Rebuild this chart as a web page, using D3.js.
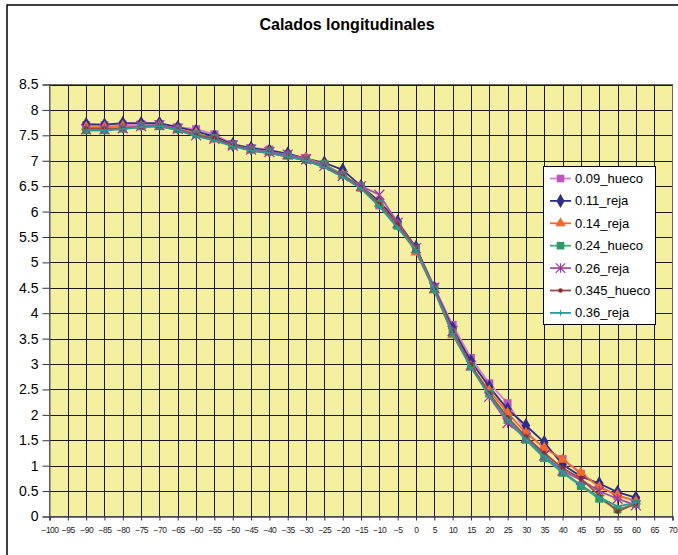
<!DOCTYPE html>
<html><head><meta charset="utf-8">
<script src="https://cdn.jsdelivr.net/npm/d3@7"></script>
<style>body{margin:0;background:#fff;} svg{display:block;font-family:Arial,"Liberation Sans",sans-serif;}</style>
</head><body>
<script>
const title = "Calados longitudinales";
const xValues = [-90,-85,-80,-75,-70,-65,-60,-55,-50,-45,-40,-35,-30,-25,-20,-15,-10,-5,0,5,10,15,20,25,30,35,40,45,50,55,60];
const xTicks = d3.range(-100, 71, 5);
const yTicks = d3.range(0, 8.51, 0.5);
const seriesNames = ["0.09_hueco","0.11_reja","0.14_reja","0.24_hueco","0.26_reja","0.345_hueco","0.36_reja"];
const s009 = [7.70,7.70,7.71,7.72,7.72,7.66,7.62,7.52,7.33,7.25,7.22,7.13,7.05,6.93,6.72,6.47,6.12,5.75,5.28,4.52,3.77,3.12,2.62,2.23,1.67,1.35,1.13,0.84,0.60,0.40,0.32];
const s011 = [7.72,7.71,7.74,7.74,7.74,7.66,7.58,7.48,7.32,7.25,7.20,7.14,7.04,6.96,6.82,6.50,6.20,5.80,5.30,4.50,3.70,3.05,2.55,2.11,1.79,1.46,1.02,0.79,0.65,0.48,0.37];
const s014 = [7.66,7.66,7.68,7.68,7.70,7.62,7.55,7.42,7.30,7.22,7.17,7.10,7.05,6.92,6.73,6.47,6.15,5.73,5.20,4.45,3.57,2.95,2.48,2.04,1.64,1.35,1.12,0.86,0.58,0.42,0.30];
const s024 = [7.60,7.60,7.63,7.68,7.68,7.62,7.52,7.45,7.30,7.22,7.18,7.10,7.02,6.93,6.72,6.50,6.15,5.72,5.25,4.48,3.62,2.95,2.42,1.90,1.51,1.15,0.86,0.60,0.35,0.14,0.25];
const s026 = [7.62,7.62,7.64,7.68,7.70,7.63,7.50,7.43,7.30,7.22,7.17,7.12,7.03,6.90,6.70,6.50,6.33,5.78,5.28,4.50,3.65,2.97,2.36,1.84,1.55,1.20,0.90,0.72,0.50,0.35,0.22];
const s0345 = [7.63,7.63,7.63,7.66,7.68,7.60,7.50,7.44,7.30,7.20,7.15,7.08,7.00,6.88,6.70,6.47,6.15,5.75,5.27,4.47,3.63,2.98,2.42,1.95,1.57,1.25,0.95,0.75,0.41,0.10,0.25];
const s036 = [7.60,7.60,7.62,7.66,7.68,7.60,7.48,7.40,7.28,7.20,7.15,7.08,7.00,6.87,6.68,6.45,6.10,5.68,5.25,4.45,3.60,2.93,2.38,1.90,1.52,1.18,0.88,0.62,0.38,0.20,0.27];
const seriesValues = [s009,s011,s014,s024,s026,s0345,s036];
const colors = ["#C055C0","#2E2E88","#F26A2A","#2E9A6A","#9A3A9A","#8E2A2A","#2A9A9A"];
const lineColors = ["#D27FD2","#2E2E88","#F26A2A","#4AA87A","#A850A8","#A04A4A","#2A9A9A"];
const shapes = ["square","diamond","triangle","square","star","circle","plus"];

const W = 678, H = 555;
const svg = d3.select("body").append("svg").attr("width", W).attr("height", H);
svg.append("rect").attr("x", 7).attr("y", 5).attr("width", W + 10).attr("height", H + 10)
  .attr("fill", "#fff").attr("stroke", "#000").attr("stroke-width", 1.5);

const x = d3.scaleLinear().domain([-100, 70]).range([49.5, 672.5]);
const y = d3.scaleLinear().domain([0, 8.5]).range([516.5, 84.5]);

svg.append("text").attr("x", 347).attr("y", 30).attr("text-anchor", "middle")
  .attr("font-size", 16).attr("font-weight", "bold").text(title);

svg.append("rect").attr("x", x(-100)).attr("y", y(8.5)).attr("width", x(70) - x(-100)).attr("height", y(0) - y(8.5))
  .attr("fill", "#F4F0A0");

const grid = svg.append("g").attr("stroke", "#1a1a1a").attr("stroke-width", 1);
xTicks.filter(d => d > -100 && d < 70).forEach(d => grid.append("line")
  .attr("x1", Math.round(x(d)) + 0.5).attr("x2", Math.round(x(d)) + 0.5).attr("y1", y(8.5)).attr("y2", y(0)));
yTicks.filter(d => d > 0).forEach(d => grid.append("line")
  .attr("x1", x(-100)).attr("x2", x(70)).attr("y1", Math.round(y(d)) + 0.5).attr("y2", Math.round(y(d)) + 0.5));
svg.append("rect").attr("x", x(-100)).attr("y", y(8.5)).attr("width", x(70) - x(-100)).attr("height", y(0) - y(8.5))
  .attr("fill", "none").attr("stroke", "#666").attr("stroke-width", 1);

const yAxis = d3.axisLeft(y).tickValues(yTicks).tickSize(7).tickPadding(4).tickFormat(d3.format("~g"));
const gy = svg.append("g").attr("transform", `translate(${x(-100)},0)`).call(yAxis);
gy.select(".domain").attr("stroke", "#555");
gy.selectAll(".tick line").attr("stroke", "#333");
gy.selectAll("text").attr("font-size", 14).attr("fill", "#000").attr("font-family", "Arial, 'Liberation Sans', sans-serif");

const xAxis = d3.axisBottom(x).tickValues(xTicks).tickSize(4).tickPadding(6).tickFormat(d3.format("d"));
const gx = svg.append("g").attr("transform", `translate(0,${y(0)})`).call(xAxis);
gx.select(".domain").attr("stroke", "#444").attr("stroke-width", 1.5);
gx.selectAll(".tick line").attr("stroke", "#333");
gx.selectAll("text").attr("font-size", 8.5).attr("fill", "#222").attr("letter-spacing", -0.5)
  .attr("font-family", "Arial, 'Liberation Sans', sans-serif");

function drawMarker(g, shape, color, cx, cy, scale) {
  const k = scale || 1;
  if (shape === "square") {
    const s = 8 * k;
    g.append("rect").attr("x", cx - s/2).attr("y", cy - s/2).attr("width", s).attr("height", s).attr("fill", color);
  } else if (shape === "diamond") {
    g.append("path").attr("d", d3.symbol(d3.symbolDiamond, 64 * k * k)()).attr("transform", `translate(${cx},${cy})`).attr("fill", color);
  } else if (shape === "triangle") {
    g.append("path").attr("d", d3.symbol(d3.symbolTriangle, 52 * k * k)()).attr("transform", `translate(${cx},${cy})`).attr("fill", color);
  } else if (shape === "star") {
    const r = 5 * k;
    g.append("path").attr("d", `M${cx-r},${cy-r}L${cx+r},${cy+r}M${cx-r},${cy+r}L${cx+r},${cy-r}M${cx},${cy-r}L${cx},${cy+r}`)
      .attr("stroke", color).attr("stroke-width", 1.2).attr("fill", "none");
  } else if (shape === "circle") {
    g.append("circle").attr("cx", cx).attr("cy", cy).attr("r", 2.3 * k).attr("fill", color);
  } else if (shape === "plus") {
    const r = 3 * k;
    g.append("path").attr("d", `M${cx-r},${cy}L${cx+r},${cy}M${cx},${cy-r}L${cx},${cy+r}`)
      .attr("stroke", color).attr("stroke-width", 1).attr("fill", "none");
  }
}

const line = d3.line().x((d, i) => x(xValues[i])).y(d => y(d));
seriesValues.forEach((vals, si) => {
  const g = svg.append("g");
  g.append("path").attr("d", line(vals)).attr("fill", "none").attr("stroke", lineColors[si]).attr("stroke-width", 1.8);
  vals.forEach((v, i) => drawMarker(g, shapes[si], colors[si], x(xValues[i]), y(v)));
});

// legend
const lg = svg.append("g");
lg.append("rect").attr("x", 543.5).attr("y", 166.5).attr("width", 112).attr("height", 158)
  .attr("fill", "#fff").attr("stroke", "#000").attr("stroke-width", 1);
seriesNames.forEach((name, i) => {
  const yy = 178.5 + i * 22.4;
  lg.append("line").attr("x1", 550).attr("x2", 571).attr("y1", yy).attr("y2", yy)
    .attr("stroke", lineColors[i]).attr("stroke-width", 1.8);
  drawMarker(lg, shapes[i], colors[i], 560.5, yy, 0.95);
  lg.append("text").attr("x", 575).attr("y", yy + 4.5).attr("font-size", 13).attr("fill", "#000").text(name);
});
</script>
</body></html>
